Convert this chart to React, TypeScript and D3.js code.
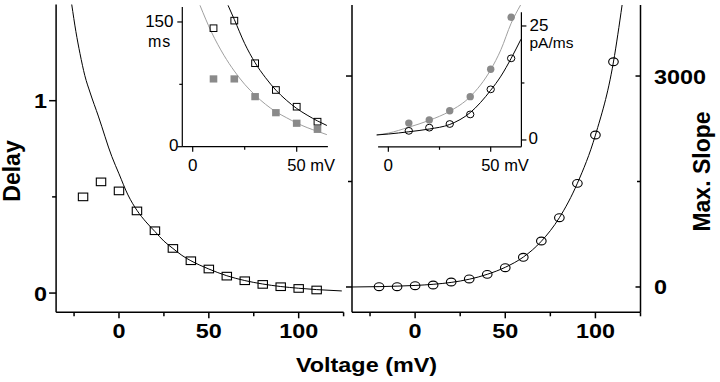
import React from "react";
import * as d3 from "d3";

// ---------- data ----------
const mainTickMajor = [0, 50, 100];
const mainTickMinor = [-25, 25, 75, 125];
const delayTicks = [0, 1];
const delayMinor = [0.5];
const slopeTicks = [0, 3000];
const slopeMinor = [1500];

const delayV = [-20, -10, 0, 10, 20, 30, 40, 50, 60, 70, 80, 90, 100, 110];
const delayVals = [0.5, 0.578, 0.531, 0.427, 0.324, 0.232, 0.168, 0.125, 0.088, 0.064, 0.045, 0.033, 0.024, 0.016];
const delayFitV = [-26.3, -24, -21.7, -19, -16, -11.5, -4, 0, 5, 10, 15, 20, 25, 30, 35, 40, 45, 50, 60, 70, 80, 90, 100, 110, 124];
const delayFitVals = [1.5, 1.36, 1.245, 1.13, 1.04, 0.92, 0.71, 0.62, 0.51, 0.43, 0.37, 0.32, 0.27, 0.232, 0.196, 0.168, 0.145, 0.125, 0.09, 0.065, 0.047, 0.034, 0.025, 0.018, 0.011];

const slopeV = [-20, -10, 0, 10, 20, 30, 40, 50, 60, 70, 80, 90, 100, 110];
const slopeVals = [4, 4, 18, 28, 71, 114, 180, 274, 422, 654, 985, 1474, 2161, 3203];
const slopeFitV = [-35, -20, -10, 0, 10, 20, 30, 40, 50, 60, 70, 80, 90, 100, 110, 114.8];
const slopeFitVals = [0, 5, 12, 22, 38, 65, 110, 180, 280, 425, 650, 985, 1475, 2160, 3200, 4010];

// inset 1 (delay, ms)
const insetV = [10, 20, 30, 40, 50, 60];
const insetDelayOpen = [142.5, 151.6, 100.4, 68.2, 48.1, 30.1];
const insetDelayGray = [81.5, 81.5, 60.2, 40.9, 28.2, 20.9];
const insetDelayFitOpenV = [17, 20, 25, 30, 35, 40, 45, 50, 55, 60, 64.5];
const insetDelayFitOpen = [170, 153, 124, 101, 83, 68, 56, 46, 38, 31, 25.5];
const insetDelayFitGrayV = [3.5, 9, 15, 20, 25, 30, 35, 40, 45, 50, 55, 60, 64.5];
const insetDelayFitGray = [170, 138, 110, 91, 75, 62, 51, 42, 35, 28.5, 23, 18.5, 14.5];

// inset 2 (slope, pA/ms)
const insetSlopeOpen = [2.0, 2.7, 3.5, 5.6, 11.1, 17.9];
const insetSlopeGray = [3.7, 4.4, 6.4, 9.5, 15.5, 26.9];
const insetSlopeFitV = [-5.7, 0, 10, 20, 30, 40, 50, 55, 60, 64.8];
const insetSlopeFitOpen = [1.1, 1.3, 1.8, 2.4, 3.4, 6.0, 10.9, 14.0, 17.9, 22.1];
const insetSlopeFitGrayV = [-5.7, 0, 10, 20, 30, 40, 50, 55, 60, 64.6];
const insetSlopeFitGray = [1.1, 1.5, 2.8, 4.3, 6.3, 9.5, 15.4, 19.8, 25.6, 29.6];

const insetXMajor = [0, 50];
const insetXMinor = [25];

// ---------- layout ----------
const FONT = "'Liberation Sans', Arial, Helvetica, sans-serif";
const GRAY_MARK = "#8a8a8a";
const GRAY_LINE = "#a0a0a0";

const xL = d3.scaleLinear().domain([-35, 125]).range([56.1, 343.6]);
const yL = d3.scaleLinear().domain([-0.1, 1.5]).range([312.3, 4.5]);
const xR = d3.scaleLinear().domain([-35, 125]).range([352, 640.5]);
const yR = d3.scaleLinear().domain([-360, 4010]).range([312.3, 5]);

const xI1 = d3.scaleLinear().domain([-5, 65]).range([182.3, 327.9]);
const yI1 = d3.scaleLinear().domain([0, 168]).range([146.7, 7]);
const xI2 = d3.scaleLinear().domain([-5, 65]).range([378.1, 521.4]);
const yI2 = d3.scaleLinear().domain([-1.5, 28]).range([146.8, 12.3]);

function path(xs: number[], ys: number[], sx: any, sy: any) {
  const pts = xs.map((v, i) => [v, ys[i]] as [number, number]);
  return d3
    .line<[number, number]>()
    .x((d) => sx(d[0]))
    .y((d) => sy(d[1]))
    .curve(d3.curveMonotoneX)(pts) as string;
}

function HText(props: any) {
  const { x, y, sx = 1, anchor = "middle", size = 20, weight = "bold", children, fill = "#000" } = props;
  return (
    <text
      transform={`translate(${x},${y}) scale(${sx},1)`}
      textAnchor={anchor}
      fontFamily={FONT}
      fontSize={size}
      fontWeight={weight}
      fill={fill}
    >
      {children}
    </text>
  );
}

export default function App() {
  const SX = 1.17;
  const ax = { stroke: "#000", strokeWidth: 1.5, fill: "none" };
  const axI = { stroke: "#000", strokeWidth: 1.2, fill: "none" };

  return (
    <svg
      width={720}
      height={382}
      style={{ position: "absolute", left: 0, top: 0, background: "#fff" }}
      xmlns="http://www.w3.org/2000/svg"
    >
      <rect x={0} y={0} width={720} height={382} fill="#fff" />

      {/* ===== Left panel axes ===== */}
      <line x1={xL(-35)} x2={xL(-35)} y1={yL(1.5)} y2={yL(-0.1)} {...ax} />
      <line x1={xL(-35)} x2={xL(125)} y1={yL(-0.1)} y2={yL(-0.1)} {...ax} />
      {delayTicks.map((t) => (
        <line key={"dl" + t} x1={xL(-35) - 7} x2={xL(-35)} y1={yL(t)} y2={yL(t)} {...ax} />
      ))}
      {delayMinor.map((t) => (
        <line key={"dm" + t} x1={xL(-35) - 4} x2={xL(-35)} y1={yL(t)} y2={yL(t)} {...ax} />
      ))}
      {delayTicks.map((t) => (
        <HText key={"dt" + t} x={47} y={yL(t) + 7.5} sx={SX} anchor="end">
          {String(t)}
        </HText>
      ))}
      {mainTickMajor.map((t) => (
        <line key={"lxM" + t} x1={xL(t)} x2={xL(t)} y1={yL(-0.1)} y2={yL(-0.1) + 6} {...ax} />
      ))}
      {mainTickMinor.map((t) => (
        <line key={"lxm" + t} x1={xL(t)} x2={xL(t)} y1={yL(-0.1)} y2={yL(-0.1) + 4} {...ax} />
      ))}
      {mainTickMajor.map((t) => (
        <HText key={"lxt" + t} x={xL(t)} y={338} sx={SX}>
          {String(t)}
        </HText>
      ))}

      {/* ===== Right panel axes ===== */}
      <line x1={xR(-35)} x2={xR(-35)} y1={yR(4010)} y2={yR(-360)} {...ax} />
      <line x1={xR(125)} x2={xR(125)} y1={yR(4010)} y2={yR(-360)} {...ax} />
      <line x1={xR(-35)} x2={xR(125)} y1={yR(-360)} y2={yR(-360)} {...ax} />
      {slopeTicks.map((t) => (
        <g key={"sl" + t}>
          <line x1={xR(-35) - 6} x2={xR(-35)} y1={yR(t)} y2={yR(t)} {...ax} />
          <line x1={xR(125) - 5} x2={xR(125)} y1={yR(t)} y2={yR(t)} {...ax} />
        </g>
      ))}
      {slopeMinor.map((t) => (
        <g key={"sm" + t}>
          <line x1={xR(-35) - 4} x2={xR(-35)} y1={yR(t)} y2={yR(t)} {...ax} />
          <line x1={xR(125) - 3.5} x2={xR(125)} y1={yR(t)} y2={yR(t)} {...ax} />
        </g>
      ))}
      {slopeTicks.map((t) => (
        <HText key={"st" + t} x={654} y={yR(t) + 7.5} sx={SX} anchor="start">
          {String(t)}
        </HText>
      ))}
      {mainTickMajor.map((t) => (
        <line key={"rxM" + t} x1={xR(t)} x2={xR(t)} y1={yR(-360)} y2={yR(-360) + 6} {...ax} />
      ))}
      {mainTickMinor.map((t) => (
        <line key={"rxm" + t} x1={xR(t)} x2={xR(t)} y1={yR(-360)} y2={yR(-360) + 4} {...ax} />
      ))}
      {mainTickMajor.map((t) => (
        <HText key={"rxt" + t} x={xR(t)} y={338} sx={SX}>
          {String(t)}
        </HText>
      ))}

      {/* ===== Titles ===== */}
      <HText x={366.5} y={371.5} sx={SX}>
        Voltage (mV)
      </HText>
      <text
        transform={`translate(20,171) rotate(-90)`}
        textAnchor="middle"
        fontFamily={FONT}
        fontSize={23}
        fontWeight="bold"
      >
        Delay
      </text>
      <text
        transform={`translate(710,171.5) rotate(-90)`}
        textAnchor="middle"
        fontFamily={FONT}
        fontSize={23}
        fontWeight="bold"
      >
        Max. Slope
      </text>

      {/* ===== Left panel data ===== */}
      <path d={path(delayFitV, delayFitVals, xL, yL)} stroke="#000" strokeWidth={1} fill="none" />
      {delayV.map((v, i) => (
        <rect
          key={"ds" + i}
          x={xL(v) - 4.7}
          y={yL(delayVals[i]) - 3.8}
          width={9.4}
          height={7.6}
          fill="none"
          stroke="#000"
          strokeWidth={1.1}
        />
      ))}

      {/* ===== Right panel data ===== */}
      <path d={path(slopeFitV, slopeFitVals, xR, yR)} stroke="#000" strokeWidth={1} fill="none" />
      {slopeV.map((v, i) => (
        <ellipse
          key={"sc" + i}
          cx={xR(v)}
          cy={yR(slopeVals[i])}
          rx={4.8}
          ry={3.9}
          fill="none"
          stroke="#000"
          strokeWidth={1.1}
        />
      ))}

      {/* ===== Inset 1 ===== */}
      <line x1={xI1(-5)} x2={xI1(-5)} y1={yI1(168)} y2={yI1(0)} {...axI} />
      <line x1={xI1(-5)} x2={xI1(65)} y1={yI1(0)} y2={yI1(0)} {...axI} />
      <line x1={xI1(-5) - 5} x2={xI1(-5)} y1={yI1(150)} y2={yI1(150)} {...axI} />
      <line x1={xI1(-5) - 5} x2={xI1(-5)} y1={yI1(0)} y2={yI1(0)} {...axI} />
      <line x1={xI1(-5) - 3} x2={xI1(-5)} y1={yI1(75)} y2={yI1(75)} {...axI} />
      {insetXMajor.map((t) => (
        <line key={"i1M" + t} x1={xI1(t)} x2={xI1(t)} y1={yI1(0)} y2={yI1(0) + 5} {...axI} />
      ))}
      {insetXMinor.map((t) => (
        <line key={"i1m" + t} x1={xI1(t)} x2={xI1(t)} y1={yI1(0)} y2={yI1(0) + 3} {...axI} />
      ))}
      <HText x={173.5} y={27} anchor="end" size={17} weight="normal">
        150
      </HText>
      <HText x={148} y={47} anchor="start" size={16} weight="normal">
        <tspan letterSpacing={1}>ms</tspan>
      </HText>
      <HText x={178.5} y={151} anchor="end" size={17} weight="normal">
        0
      </HText>
      <HText x={xI1(0)} y={171} size={17} weight="normal">
        0
      </HText>
      <HText x={xI1(50) - 9.5} y={171} anchor="start" size={16.5} weight="normal">
        50 mV
      </HText>

      <path d={path(insetDelayFitGrayV, insetDelayFitGray, xI1, yI1)} stroke={GRAY_LINE} strokeWidth={1} fill="none" />
      <path d={path(insetDelayFitOpenV, insetDelayFitOpen, xI1, yI1)} stroke="#000" strokeWidth={1} fill="none" />
      {insetV.map((v, i) => (
        <rect
          key={"i1g" + i}
          x={xI1(v) - 3.8}
          y={yI1(insetDelayGray[i]) - 3.6}
          width={7.6}
          height={7.2}
          fill={GRAY_MARK}
        />
      ))}
      {insetV.map((v, i) => (
        <rect
          key={"i1o" + i}
          x={xI1(v) - 3.4}
          y={yI1(insetDelayOpen[i]) - 3.3}
          width={6.8}
          height={6.6}
          fill="none"
          stroke="#000"
          strokeWidth={1}
        />
      ))}

      {/* ===== Inset 2 ===== */}
      <line x1={xI2(65)} x2={xI2(65)} y1={yI2(28)} y2={yI2(-1.5)} {...axI} />
      <line x1={xI2(-5)} x2={xI2(65)} y1={yI2(-1.5)} y2={yI2(-1.5)} {...axI} />
      <line x1={xI2(65)} x2={xI2(65) + 5} y1={yI2(25)} y2={yI2(25)} {...axI} />
      <line x1={xI2(65)} x2={xI2(65) + 5} y1={yI2(0)} y2={yI2(0)} {...axI} />
      <line x1={xI2(65)} x2={xI2(65) + 3} y1={yI2(12.5)} y2={yI2(12.5)} {...axI} />
      {insetXMajor.map((t) => (
        <line key={"i2M" + t} x1={xI2(t)} x2={xI2(t)} y1={yI2(-1.5)} y2={yI2(-1.5) + 5} {...axI} />
      ))}
      {insetXMinor.map((t) => (
        <line key={"i2m" + t} x1={xI2(t)} x2={xI2(t)} y1={yI2(-1.5)} y2={yI2(-1.5) + 3} {...axI} />
      ))}
      <HText x={529.5} y={31} anchor="start" size={17} weight="normal">
        25
      </HText>
      <HText x={529.5} y={47.5} anchor="start" size={15.5} weight="normal">
        pA/ms
      </HText>
      <HText x={528.5} y={144} anchor="start" size={17} weight="normal">
        0
      </HText>
      <HText x={xI2(0)} y={171} size={17} weight="normal">
        0
      </HText>
      <HText x={xI2(50) - 9.5} y={171} anchor="start" size={16.5} weight="normal">
        50 mV
      </HText>

      <path d={path(insetSlopeFitGrayV, insetSlopeFitGray, xI2, yI2)} stroke={GRAY_LINE} strokeWidth={1} fill="none" />
      <path d={path(insetSlopeFitV, insetSlopeFitOpen, xI2, yI2)} stroke="#000" strokeWidth={1} fill="none" />
      {insetV.map((v, i) => (
        <circle key={"i2g" + i} cx={xI2(v)} cy={yI2(insetSlopeGray[i])} r={3.7} fill={GRAY_MARK} />
      ))}
      {insetV.map((v, i) => (
        <ellipse
          key={"i2o" + i}
          cx={xI2(v)}
          cy={yI2(insetSlopeOpen[i])}
          rx={3.7}
          ry={3.4}
          fill="none"
          stroke="#000"
          strokeWidth={1}
        />
      ))}
    </svg>
  );
}
